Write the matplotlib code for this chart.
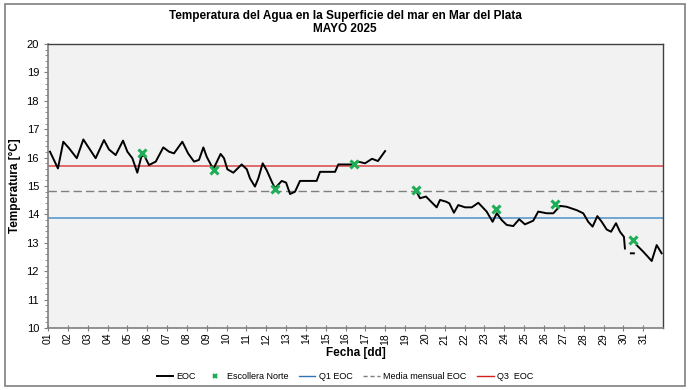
import numpy as np
import matplotlib
matplotlib.use("Agg")
import matplotlib.pyplot as plt
from matplotlib.patches import Rectangle
from matplotlib.lines import Line2D
from matplotlib.ticker import MultipleLocator

plt.rcParams['font.family'] = ['Liberation Sans', 'DejaVu Sans']

# EOC series (day of month, temperature); NaN marks gaps
eoc_day = [1.10, 1.50, 1.77, 2.06, 2.45, 2.78, 3.07, 3.40, 3.82, 4.07, 4.41, 4.78,
           5.00, 5.25, 5.50, 5.70, 5.84, 6.09, 6.43, 6.81, 7.10, 7.35, 7.77, 8.06,
           8.36, 8.61, 8.83, 9.00, 9.33, 9.70, 9.87, 10.04, 10.34, 10.76, 11.02,
           11.18, 11.43, 11.60, 11.82, 12.02, 12.28, 12.44, 12.78, 13.00, 13.20,
           13.45, 13.70, 14.54, 14.71, 15.47, 15.63, 16.31, 16.64, 16.98, 17.33,
           17.63, 17.99, 18.5,
           19.61, 19.75, 20.05, 20.59, 20.76, 21.06, 21.23, 21.46, 21.68, 22.02,
           22.36, 22.69, 23.11, 23.41, 23.62, 23.87, 24.12, 24.45, 24.75, 25.04,
           25.46, 25.71, 26.14, 26.47, 26.81, 27.14, 27.65, 27.98, 28.23, 28.45,
           28.69, 28.91, 29.16, 29.38, 29.63, 29.83, 30.03, 30.08, 30.2,
           30.38, 30.53, 30.6,
           30.67, 31.00, 31.43, 31.68, 31.93]
eoc_temp = [16.21, 15.62, 16.56, 16.33, 15.98, 16.64, 16.33, 15.98, 16.62, 16.29,
            16.09, 16.60, 16.21, 15.98, 15.47, 16.03, 16.09, 15.74, 15.86, 16.36,
            16.21, 16.15, 16.56, 16.15, 15.86, 15.92, 16.36, 16.03, 15.59, 16.13,
            15.98, 15.59, 15.47, 15.76, 15.59, 15.27, 14.98, 15.27, 15.80, 15.56,
            15.15, 14.92, 15.18, 15.12, 14.72, 14.80, 15.18, 15.18, 15.50, 15.50,
            15.76, 15.76, 15.86, 15.80, 15.96, 15.88, 16.23, np.nan,
            14.76, 14.57, 14.63, 14.25, 14.51, 14.45, 14.39, 14.06, 14.33, 14.25,
            14.25, 14.41, 14.10, 13.74, 14.04, 13.80, 13.63, 13.59, 13.83, 13.65,
            13.78, 14.10, 14.04, 14.04, 14.30, 14.27, 14.15, 14.04, 13.74, 13.57,
            13.94, 13.74, 13.47, 13.39, 13.69, 13.39, 13.21, 12.80, np.nan,
            12.63, 12.63, np.nan,
            12.92, 12.69, 12.36, 12.92, 12.63]

# Escollera Norte manual readings
esc_day = [5.74, 9.37, 12.44, 16.42, 19.55, 23.58, 26.55, 30.49]
esc_temp = [16.16, 15.56, 14.89, 15.77, 14.86, 14.19, 14.37, 13.10]

q1_eoc = 13.87
media_eoc = 14.82
q3_eoc = 15.70

days = list(range(1, 32))
day_labels = ["%02d" % d for d in days]

green = '#1fae55'

fig = plt.figure(figsize=(6.9, 3.9), dpi=100)
fig.patches.append(Rectangle((0.007, 0.01), 0.986, 0.98, transform=fig.transFigure,
                             fill=False, edgecolor='#7f7f7f', linewidth=1.2))

ax = fig.add_axes([0.0696, 0.159, 0.8913, 0.728])
ax.set_facecolor('#f2f2f2')

ax.plot(eoc_day, eoc_temp, color='black', linewidth=1.4, zorder=3)
ax.plot(esc_day, esc_temp, linestyle='none', marker='x', color=green,
        markersize=6, markeredgewidth=2.2, zorder=4)
ax.axhline(q1_eoc, color='#6fa6d2', linewidth=1.4, zorder=2)
ax.axhline(media_eoc, color='#7f7f7f', linewidth=1.0, linestyle=(0, (6, 3)), zorder=2)
ax.axhline(q3_eoc, color='#e06a6a', linewidth=1.4, zorder=2)

ax.set_xlim(1, 32)
ax.set_ylim(10, 20)
ax.set_xticks(days)
ax.set_xticklabels(day_labels, rotation=90, fontsize=7.5)
ax.yaxis.set_major_locator(MultipleLocator(1))
ax.yaxis.set_minor_locator(MultipleLocator(0.2))
ax.tick_params(axis='y', labelsize=8, direction='out', length=3, color='#7f7f7f')
ax.tick_params(axis='y', which='minor', direction='out', length=2, color='#7f7f7f')
ax.tick_params(axis='x', direction='inout', length=5, color='#7f7f7f', pad=1)

for side in ['left', 'bottom']:
    ax.spines[side].set_color('#7f7f7f')
    ax.spines[side].set_linewidth(1.2)
for side in ['top', 'right']:
    ax.spines[side].set_color('#404040')
    ax.spines[side].set_linewidth(1.0)

ax.set_xlabel('Fecha [dd]', fontsize=8.5, fontweight='bold', labelpad=2)
ax.set_ylabel('Temperatura [°C]', fontsize=8.5, fontweight='bold', labelpad=4)

fig.text(0.5, 0.958, 'Temperatura del Agua en la Superficie del mar en Mar del Plata',
         ha='center', va='center', fontsize=8.5, fontweight='bold')
fig.text(0.5, 0.925, 'MAYO 2025', ha='center', va='center', fontsize=8.5,
         fontweight='bold')

# legend handles drawn a bit smaller than in the plot, like the original
handles = [
    Line2D([], [], color='black', linewidth=1.4),
    Line2D([], [], linestyle='none', marker='x', color=green, markersize=3.5,
           markeredgewidth=1.6),
    Line2D([], [], color='#2f75b5', linewidth=1.0),
    Line2D([], [], color='#7f7f7f', linewidth=1.0, linestyle=(0, (3, 2))),
    Line2D([], [], color='#d42020', linewidth=1.0),
]
labels = ['EOC', 'Escollera Norte', 'Q1 EOC', 'Media mensual EOC', 'Q3  EOC']
fig.legend(handles, labels, loc='center', bbox_to_anchor=(0.5, 0.035),
           ncol=5, frameon=False, fontsize=6.5, handlelength=1.8,
           handletextpad=0.4, columnspacing=1.2)

fig.savefig('out.png', dpi=100)
